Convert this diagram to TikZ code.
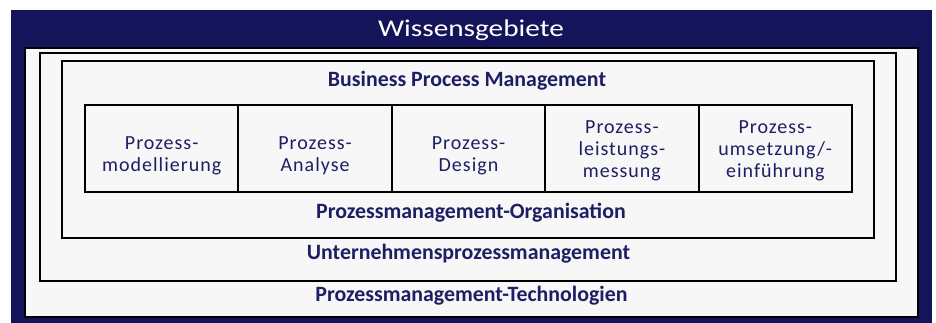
\documentclass[tikz,border=0pt]{standalone}
\usepackage{fontspec}
\setmainfont{Carlito}
\newfontfamily\fieldfont[LetterSpace=5]{Carlito}
\usetikzlibrary{positioning}
\definecolor{wgnavy}{RGB}{20,20,90}
\definecolor{wgtext}{RGB}{30,30,100}
\definecolor{wgpanel}{RGB}{247,247,247}
\tikzset{
  panel/.style={draw=black, line width=1.3pt, fill=wgpanel},
  frame/.style={draw=black, line width=1.5pt},
  heading/.style={anchor=base, text=white, font=\fontsize{18}{21}\selectfont},
  area/.style={anchor=base, text=wgtext, font=\bfseries\fontsize{16.4}{19}\selectfont},
  field/.style={draw=black, line width=1.5pt, minimum width=115pt, minimum height=65pt, inner sep=0pt},
  fieldtext/.style={text=wgtext, align=center, font=\fieldfont\fontsize{15}{16.5}\selectfont}
}
\begin{document}
\begin{tikzpicture}[x=0.75pt,y=-0.75pt]
  \useasboundingbox (0,0) rectangle (936,323);
  % Wissensgebiete
  \fill[wgnavy] (11,10) rectangle (932,323);
  \draw[panel] (25,48) rectangle (918,317);
  \node[heading] (wissen) at (471,37) {\scalebox{1.22}[1]{Wissensgebiete}};
  % Rahmen
  \draw[frame] (40,53) rectangle (896,281);
  \draw[frame, line width=1.8pt] (62,61) rectangle (874,238);
  \node[area] (bpm) at (467,87) {Business Process Management};
  \node[area] (orga) at (471,219) {Prozessmanagement-Organisation};
  \node[area] (upm) at (468.5,260) {Unternehmensprozessmanagement};
  \node[area] (tech) at (471.5,302) {Prozessmanagement-Technologien};
  % Felder
  \foreach \i/\txt/\dy in {1/{Prozess-\\modellierung}/-5.25,
                           2/{Prozess-\\Analyse}/-5.25,
                           3/{Prozess-\\Design}/-5.25,
                           4/{Prozess-\\leistungs-\\messung}/-1.9,
                           5/{Prozess-\\umsetzung/-\\einführung}/-1.9} {
    \node[field] (f\i) at ({85+153.4*(\i-0.5)},148.5) {};
    \node[fieldtext] (t\i) at ([yshift=\dy pt]f\i.center) {\txt};
  }
\end{tikzpicture}
\end{document}
